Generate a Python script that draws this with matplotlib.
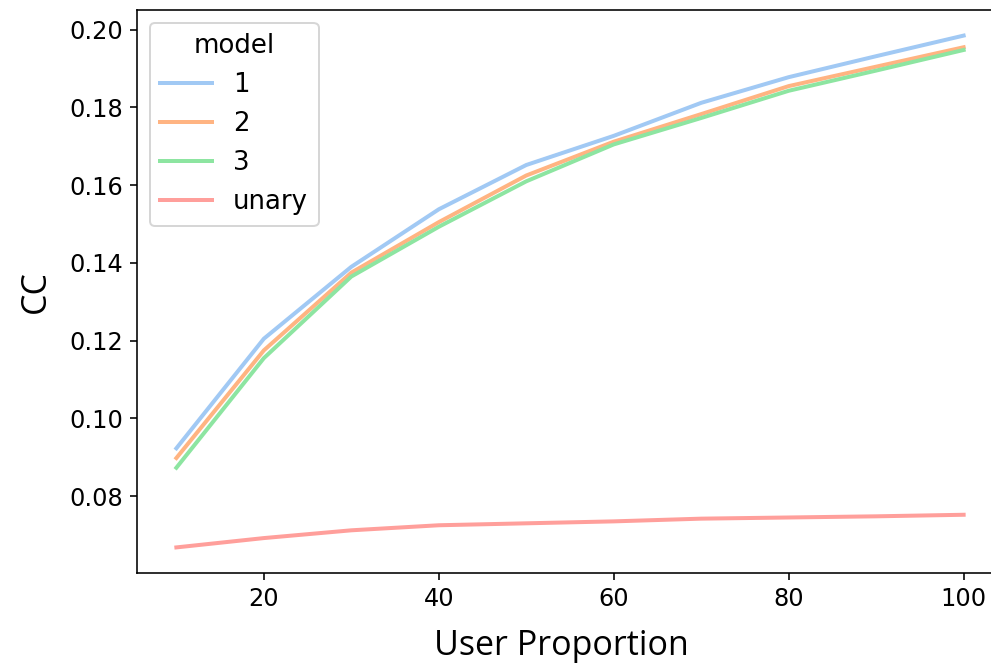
import matplotlib
matplotlib.use("Agg")
import matplotlib.pyplot as plt

# data
proportion = [10, 20, 30, 40, 50, 60, 70, 80, 90, 100]
cc_1 = [0.0923, 0.1205, 0.1390, 0.1538, 0.1652, 0.1727, 0.1812, 0.1878, 0.1932, 0.1985]
cc_2 = [0.0898, 0.1175, 0.1375, 0.1505, 0.1625, 0.1712, 0.1783, 0.1855, 0.1905, 0.1955]
cc_3 = [0.0873, 0.1155, 0.1365, 0.1493, 0.1610, 0.1705, 0.1773, 0.1843, 0.1895, 0.1948]
cc_unary = [0.0668, 0.0692, 0.0712, 0.0725, 0.0730, 0.0735, 0.0742, 0.0745, 0.0748, 0.0752]

labels = ["1", "2", "3", "unary"]
colors = ["#a1c9f4", "#ffb482", "#8de5a1", "#ff9f9b"]

dpi = 144
fig = plt.figure(figsize=(991 / dpi, 669 / dpi), dpi=dpi)
# right edge of the original axes is cut off
ax = fig.add_axes([137 / 991, (669 - 573) / 669, (1003 - 137) / 991, (573 - 10) / 669])

for ys, lab, c in zip([cc_1, cc_2, cc_3, cc_unary], labels, colors):
    ax.plot(proportion, ys, color=c, label=lab, linewidth=2)

ax.spines["right"].set_visible(False)
ax.set_xlabel("User Proportion", fontsize=17, family="Open Sans", labelpad=12.5)
ax.set_ylabel("CC", fontsize=17, family="Open Sans", labelpad=8)
ax.xaxis.set_label_coords(0.49, -0.1)
ax.xaxis.label.set_verticalalignment("top")
ax.tick_params(labelsize=12)
ax.legend(title="model", loc="upper left", fontsize=13, title_fontsize=13)

fig.savefig("out.png", dpi=dpi)
